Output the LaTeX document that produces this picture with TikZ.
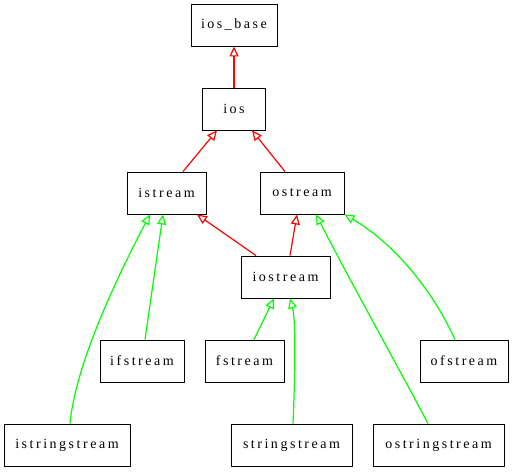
\documentclass[tikz,border=0pt]{standalone}
\usepackage{fontspec}
\setmainfont{Liberation Serif}[LetterSpace=18]
\usetikzlibrary{arrows.meta}
\begin{document}
\begin{tikzpicture}[x=1pt,y=-1pt,
  cls/.style={draw=black, line width=0.9pt, minimum height=42pt, inner sep=0pt, font=\fontsize{14}{16}\selectfont},
  inh/.style={line width=1.2pt, -{Triangle[open, length=10pt, width=9pt]}},
  pub/.style={inh, draw={rgb,255:red,255;green,0;blue,0}},
  tmpl/.style={inh, draw={rgb,255:red,0;green,255;blue,0}}]
\useasboundingbox (0,0) rectangle (514,472);
\node[cls, minimum width=86pt] (iosbase) at (234,25) {ios\_base};
\node[cls, minimum width=63pt] (ios) at (234,109) {ios};
\node[cls, minimum width=79pt] (istream) at (166.5,193) {istream};
\node[cls, minimum width=84pt] (ostream) at (302,193) {ostream};
\node[cls, minimum width=89pt] (iostream) at (285.5,277) {iostream};
\node[cls, minimum width=84pt] (ifstream) at (142,361) {ifstream};
\node[cls, minimum width=79pt] (fstream) at (244.5,361) {fstream};
\node[cls, minimum width=88pt] (ofstream) at (464,361) {ofstream};
\node[cls, minimum width=126pt] (isstream) at (67,445) {istringstream};
\node[cls, minimum width=121pt] (sstream) at (291.5,445) {stringstream};
\node[cls, minimum width=131pt] (osstream) at (438.5,445) {ostringstream};

\draw[pub] (ios.north) -- (iosbase.south);
\draw[pub] ([xshift=16.5pt]istream.north) -- ([xshift=-17pt]ios.south);
\draw[pub] ([xshift=-17pt]ostream.north) -- ([xshift=18pt]ios.south);
\draw[pub] ([xshift=-29.5pt]iostream.north) -- ([xshift=30.5pt]istream.south);
\draw[pub] ([xshift=4.5pt]iostream.north) -- ([xshift=-5pt]ostream.south);

\draw[tmpl] ([xshift=3pt]ifstream.north) -- ([xshift=-3.5pt]istream.south);
\draw[tmpl] ([xshift=3pt]isstream.north) .. controls +(5,-54) and +(-40,76) .. ([xshift=-16.5pt]istream.south);
\draw[tmpl] ([xshift=9.5pt]fstream.north) -- ([xshift=-11.5pt]iostream.south);
\draw[tmpl] ([xshift=1.5pt]sstream.north) .. controls +(2,-44) and +(6,22) .. ([xshift=4.5pt]iostream.south);
\draw[tmpl] ([xshift=-10.5pt]osstream.north) .. controls +(-36,-68) and +(36,70) .. ([xshift=14pt]ostream.south);
\draw[tmpl] ([xshift=-9pt]ofstream.north) .. controls +(-25,-55) and +(45,26) .. (ostream.south east);
\end{tikzpicture}
\end{document}
